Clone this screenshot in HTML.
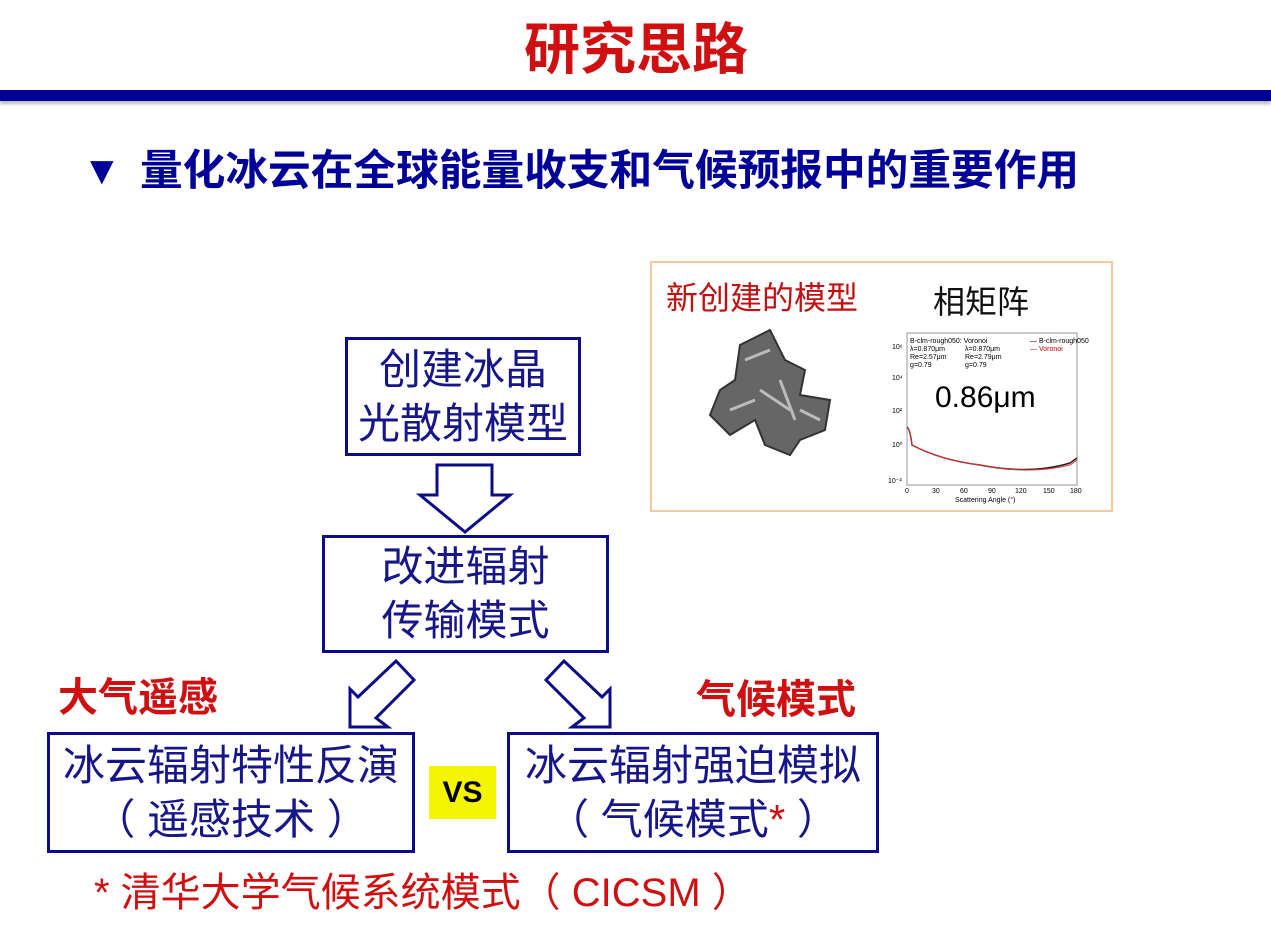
<!DOCTYPE html>
<html><head><meta charset="utf-8"><style>
html,body{margin:0;padding:0}
body{width:1271px;height:932px;position:relative;background:#fff;overflow:hidden;font-family:"Liberation Sans","Noto Sans CJK SC",sans-serif}
.a{position:absolute;white-space:nowrap}
.box{position:absolute;border:3px solid #0c0c8a;box-sizing:border-box;color:#16168a;font-size:42px;line-height:54px;text-align:center;display:flex;flex-direction:column;justify-content:center}
.box div{white-space:nowrap}
</style></head><body>
<div class="a" style="left:524px;top:18px;font-size:56px;font-weight:bold;color:#d01010;line-height:64px">研究思路</div>
<div class="a" style="left:0;top:90px;width:1271px;height:11px;background:#000099;box-shadow:0 3px 3px #bbb"></div>
<div class="a" style="left:82px;top:147px;font-size:40px;font-weight:bold;color:#000099;line-height:48px">▼</div>
<div class="a" style="left:140px;top:146px;font-size:42.7px;font-weight:bold;color:#000099;line-height:50px">量化冰云在全球能量收支和气候预报中的重要作用</div>

<div class="a" style="left:650px;top:261px;width:463px;height:251px;border:2px solid #f3c9a0;box-sizing:border-box"></div>
<div class="a" style="left:666px;top:278px;font-size:32px;color:#c01010;line-height:40px">新创建的模型</div>
<div class="a" style="left:933px;top:282px;font-size:32px;color:#111;line-height:40px">相矩阵</div>
<svg class="a" style="left:700px;top:320px" width="140" height="140">
<path d="M40 25 L70 10 L85 40 L105 50 L100 75 L130 80 L125 110 L100 120 L90 135 L65 125 L55 100 L30 115 L10 95 L20 70 L35 60 Z" fill="#666" stroke="#333" stroke-width="2"/>
<path d="M45 40 L70 30 M60 70 L90 90 M30 90 L55 80 M80 60 L95 100 M100 90 L120 100" stroke="#bbb" stroke-width="3"/>
</svg>
<svg class="a" style="left:880px;top:325px" width="225" height="180" font-family="Liberation Sans" font-size="7">
<rect x="27" y="8" width="170" height="152" fill="none" stroke="#999"/>
<text x="30" y="18">B-clm-rough050: Voronoi</text><text x="30" y="26">λ=0.870μm</text><text x="30" y="34">Re=2.57μm</text><text x="30" y="42">g=0.79</text>
<text x="85" y="26">λ=0.870μm</text><text x="85" y="34">Re=2.79μm</text><text x="85" y="42">g=0.79</text>
<text x="150" y="18">— B-clm-rough050</text><text x="150" y="26" fill="#c00">— Voronoi</text>
<text x="12" y="24">10⁶</text><text x="12" y="55">10⁴</text><text x="12" y="88">10²</text><text x="12" y="122">10⁰</text><text x="8" y="158">10⁻²</text>
<path d="M27 102 Q30 104 32 120 Q60 135 100 140 Q150 150 190 138 L197 133" fill="none" stroke="#222" stroke-width="1.5"/>
<path d="M27 102 Q30 104 32 120 Q60 135 100 140 Q150 150 190 140 L197 135" fill="none" stroke="#d33" stroke-width="1"/>
<text x="25" y="168">0</text><text x="52" y="168">30</text><text x="80" y="168">60</text><text x="108" y="168">90</text><text x="135" y="168">120</text><text x="163" y="168">150</text><text x="190" y="168">180</text>
<text x="75" y="177">Scattering Angle (°)</text>
</svg>
<div class="a" style="left:935px;top:378px;font-size:30px;color:#000;line-height:40px">0.86μm</div>

<div class="box" style="left:345px;top:337px;width:236px;height:119px"><div>创建冰晶</div><div>光散射模型</div></div>
<div class="box" style="left:322px;top:535px;width:287px;height:118px"><div>改进辐射</div><div>传输模式</div></div>
<div class="box" style="left:47px;top:732px;width:368px;height:121px"><div>冰云辐射特性反演</div><div>（ 遥感技术 ）</div></div>
<div class="box" style="left:507px;top:732px;width:372px;height:121px"><div>冰云辐射强迫模拟</div><div>（ 气候模式<span style="color:#d01010">*</span> ）</div></div>
<div class="a" style="left:429px;top:766px;width:67px;height:53px;background:#f5f500;font-size:30px;font-weight:bold;color:#000;text-align:center;line-height:53px">VS</div>

<svg class="a" style="left:0;top:0" width="1271" height="932">
<g fill="#fff" stroke="#0c0c8a" stroke-width="3" stroke-linejoin="miter">
<polygon points="465,532 420,495 437,495 437,465 492,465 492,495 510,495"/>
<polygon points="350,727 350,689 358,697 396,661 414,680 376,718 388,727"/>
<polygon points="610,727 610,689 602,697 564,661 546,680 584,718 572,727"/>
</g></svg>

<div class="a" style="left:58px;top:674px;font-size:40px;font-weight:bold;color:#d01010;line-height:48px">大气遥感</div>
<div class="a" style="left:696px;top:676px;font-size:40px;font-weight:bold;color:#d01010;line-height:48px">气候模式</div>
<div class="a" style="left:94px;top:868px;font-size:40px;color:#d01010;line-height:50px">* 清华大学气候系统模式（ CICSM ）</div>
</body></html>
